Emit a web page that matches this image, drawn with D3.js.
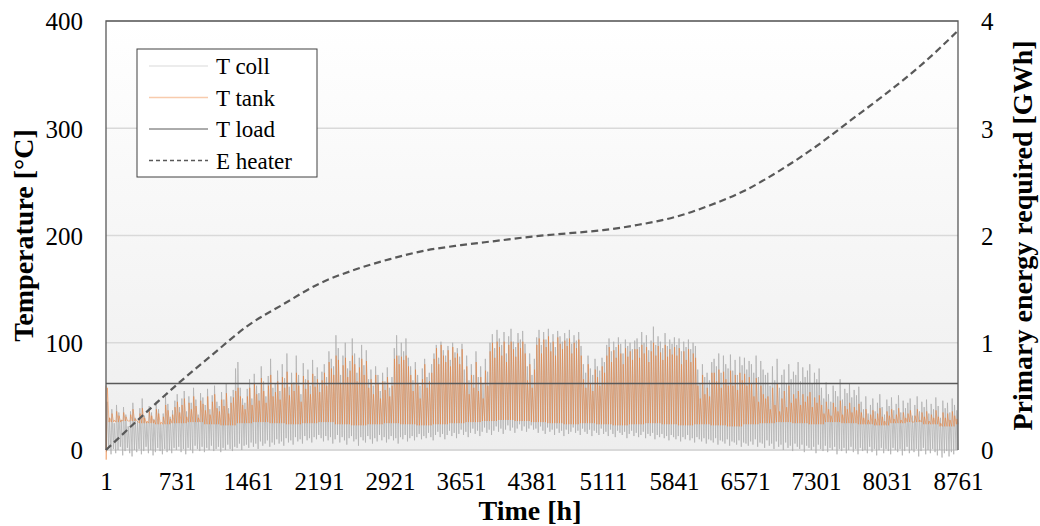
<!DOCTYPE html>
<html>
<head>
<meta charset="utf-8">
<script src="https://cdn.jsdelivr.net/npm/d3@7"></script>
<style>
  body { margin: 0; background: #fff; }
  text { font-family: "Liberation Serif", "Times New Roman", serif; fill: #000; }
  .axisTitle { font-size: 28px; font-weight: bold; }
  .legendText { font-size: 23px; }
</style>
</head>
<body>
<div id="chart"></div>
<script>
// tick labels
var xTicks = [1, 731, 1461, 2191, 2921, 3651, 4381, 5111, 5841, 6571, 7301, 8031, 8761];
var yTicks = [0, 100, 200, 300, 400];
var yTicksRight = [0, 1, 2, 3, 4];

// daily peak of T coll [°C], one value per day
var collMax = [
  45, 30, 38, 25, 42, 35, 28, 40, 33, 22, 36, 44, 30, 27, 39, 48, 32, 26, 41, 35, 29, 45, 38, 24, 34, 50, 43, 31, 37, 46,
  52, 40, 48, 55, 36, 50, 44, 58, 47, 33, 53, 49, 42, 57, 38, 51, 60, 45, 41, 54, 47, 62, 39, 50, 56, 76, 82, 58, 48, 44,
  57, 66, 48, 71, 60, 53, 78, 64, 50, 69, 85, 58, 62, 74, 55, 80, 67, 90, 59, 72, 63, 88, 70, 52, 81, 66, 75, 60, 84, 69, 77, 62,
  73, 80, 68, 92, 85, 78, 107, 95, 70, 88, 100, 76, 83, 104, 90, 72, 86, 98, 79, 93, 66, 75, 60, 78, 70, 55, 72, 64, 77, 58, 68,
  95, 107, 88, 100, 92, 104, 86,
  78, 65, 82, 70, 60, 76, 85, 68, 72, 80,
  90, 98, 86, 101, 93, 88, 97, 84, 100, 91, 95, 87, 99,
  75, 88, 65, 80, 70, 92, 68, 78, 62, 85, 73,
  100, 108, 95, 112, 104, 98, 110, 90, 106, 113, 101, 96, 109, 103, 111, 99,
  78, 90, 70, 85,
  105, 112, 98, 110, 103, 113, 100, 108, 96, 111, 106, 101, 109, 104, 112, 99, 107, 102, 110, 97,
  80, 72, 88, 76, 70, 85, 78, 74, 86, 82,
  98, 104, 92, 101, 96, 105, 99, 90, 103, 97, 100, 94, 102,
  104, 96, 110, 100, 107, 93, 102, 115, 98, 106, 101, 95, 109, 97, 103, 99, 105,
  98, 104, 92, 101, 96, 103, 94, 100, 97,
  75, 62, 80, 68, 72, 65, 82,
  85, 78, 90, 72, 88, 80, 76, 89, 74, 84, 70, 87, 79, 86, 75, 83,
  80, 72, 88, 68, 83, 75, 70,
  72, 60, 78, 65, 85, 58, 70, 75, 62, 80, 66, 73,
  70, 82, 64, 77, 68, 74, 80, 62, 72, 66, 76,
  58, 48, 63, 52, 45, 60, 55, 50, 66, 47, 57, 53, 62, 49, 56, 51, 59,
  45, 38, 50, 34, 42, 48, 36, 44, 52, 40, 33, 47, 41, 49, 37, 43, 51, 35, 46, 39, 44, 48, 32, 42, 50, 36, 45, 40, 47, 34, 43, 38, 49, 41, 30, 46, 39, 44, 35, 48, 42, 37
];

// daily night minimum of T coll [°C]
var collMin = [
  -2, 2, -4, 1, -3, 0, 3, -5, -1, 2, -3, -6, 0, -2, 1, -4, -1, 3, -3, 0, -5, -2, 2, -1, -4, 1, -2, 0, -3, 2,
  0, 3, -2, 1, -4, 2, 0, -3, 4, 1, -1, 3, -2, 2, 0, 4, -1, 1, 3, -2, 2, 0, 5, 1, -1, 3, 2, 6, 0, 4,
  5, 2, 7, 3, 6, 1, 8, 4, 6, 9, 3, 7, 5, 10, 6, 8, 4, 11, 7, 9, 5, 12, 8, 10, 6, 13, 9, 11, 7, 12, 10, 14,
  11, 8, 13, 9, 12, 6, 10, 14, 7, 12, 9, 5, 11, 13, 8, 10, 4, 12, 9, 7, 13, 10, 6, 11, 8, 14, 9, 12, 7, 10,
  13, 9, 11, 6, 12, 10, 14, 8, 11, 13, 9, 12, 15, 10, 13, 11, 16, 12, 9, 14, 17, 12, 15, 10, 14, 18, 13, 16, 11, 15,
  19, 14, 17, 12, 16, 20, 15, 18, 13, 17, 21, 16, 19, 14, 18, 22, 17, 20, 15, 19, 23, 18, 21, 16, 20, 24, 18, 22, 17, 20, 23, 19,
  20, 16, 22, 18, 15, 21, 17, 19, 14, 20, 16, 18, 13, 19, 15, 17, 21, 16, 18, 14, 20, 17, 15, 19, 13, 18, 16, 14, 20, 15,
  17, 13, 19, 15, 12, 18, 16, 14, 17, 11, 15, 18, 13, 16, 12, 14, 17, 11, 15, 13, 16, 10, 14, 12, 15, 11, 13, 9, 14, 12,
  10, 13, 8, 12, 10, 14, 9, 11, 7, 12, 10, 8, 11, 6, 10, 9, 7, 11, 5, 9, 8, 6, 10, 4, 8, 7, 5, 9, 3, 7, 6, 4,
  8, 5, 10, 3, 7, 6, 2, 9, 4, 6, 1, 8, 3, 5, 0, 7, 2, 4, -1, 6, 3, 1, 5, -2, 4, 2, 0, 3, -3, 5,
  1, -1, 4, -2, 2, 0, 3, -4, 1, -1, 2, -3, 0, 3, -2, 1, -4, 2, -1, 0, -3, 3, -2, 1, -5, 0, 2, -3, 1, -1,
  -4, 2, 0, -2, 1, -5, -1, 3, -3, 0, -2, 1, -6, -1, 2, -4, 0, -3, 1, -2, -5, 0, -7, -3, -1, -6, -2, -4, 0
];

// daily peak of T tank [°C]
var tankMax = [
  58, 30, 34, 28, 36, 32, 28, 35, 31, 27, 33, 38, 29, 27, 34, 39, 30, 27, 36, 32, 28, 38, 34, 26, 31, 42, 37, 29, 33, 40,
  45, 35, 42, 48, 31, 44, 38, 50, 41, 30, 46, 43, 37, 50, 33, 45, 52, 39, 36, 47, 41, 53, 34, 44, 49, 55, 58, 50, 42, 38,
  50, 58, 42, 62, 52, 46, 67, 55, 44, 60, 70, 50, 54, 64, 47, 68, 58, 73, 51, 62, 55, 72, 60, 45, 69, 57, 65, 52, 71, 59, 66, 54,
  65, 72, 60, 82, 76, 70, 88, 84, 62, 79, 86, 68, 74, 88, 80, 64, 77, 85, 70, 83, 58, 66, 52, 70, 62, 48, 64, 56, 68, 50, 60,
  85, 88, 80, 87, 84, 88, 78,
  70, 55, 75, 62, 48, 66, 80, 58, 64, 72,
  85, 95, 80, 98, 88, 82, 93, 78, 96, 86, 90, 80, 94,
  62, 78, 52, 70, 58, 82, 55, 68, 48, 74, 60,
  92, 100, 86, 101, 96, 88, 101, 82, 98, 101, 94, 87, 100, 95, 101, 90,
  65, 80, 58, 75,
  98, 104, 90, 103, 96, 106, 92, 101, 88, 105, 99, 94, 102, 97, 104, 90, 100, 95, 103, 88,
  66, 58, 80, 62, 55, 75, 68, 60, 78, 72,
  88, 96, 82, 93, 86, 98, 90, 80, 95, 87, 92, 84, 94,
  94, 86, 98, 90, 96, 82, 92, 100, 88, 97, 91, 84, 98, 87, 94, 89, 96,
  88, 95, 80, 92, 84, 94, 82, 90, 86,
  60, 48, 70, 52, 58, 50, 72,
  72, 64, 75, 58, 73, 66, 60, 74, 60, 70, 56, 72, 65, 71, 60, 68,
  62, 50, 67, 45, 60, 52, 48,
  50, 38, 58, 42, 62, 36, 48, 55, 40, 60, 44, 52,
  48, 55, 42, 52, 45, 50, 54, 40, 49, 44, 51,
  42, 34, 45, 38, 32, 44, 40, 36, 46, 33, 41, 38, 44, 35, 40, 37, 43,
  35, 30, 38, 28, 33, 37, 29, 34, 39, 31, 27, 36, 32, 38, 29, 33, 39, 28, 35, 30, 34, 37, 26, 32, 38, 28, 35, 31, 36, 27, 33, 30, 37, 31, 25, 35, 30, 34, 28, 36, 32, 29
];

// T tank baseline [°C], one value per week
var tankBase = [
  26, 27, 25, 24, 25, 26, 24, 23, 25, 26, 25, 24, 25, 26, 24, 23, 24, 25, 24, 23, 24, 25, 26, 27, 28, 27, 26,
  25, 24, 25, 24, 23, 24, 25, 24, 23, 24, 23, 22, 24, 25, 26, 25, 24, 26, 25, 24, 23, 25, 26, 24, 22, 24
];

// first hours of the tank (start-up dip)
var tankStartHours = [1, 3];
var tankStart = [60, -9];

// T load [°C], constant set point
var tLoad = 62;

// cumulative heater energy [GWh]
var eHours = [1, 365, 731, 1096, 1461, 1826, 2191, 2556, 2921, 3286, 3651, 4016, 4381,
              4746, 5111, 5476, 5841, 6206, 6571, 6936, 7301, 7666, 8031, 8396, 8761];
var eHeater = [0, 0.31, 0.61, 0.89, 1.16, 1.36, 1.55, 1.68, 1.78, 1.86, 1.91, 1.95, 1.99,
               2.02, 2.05, 2.10, 2.17, 2.28, 2.42, 2.61, 2.83, 3.08, 3.33, 3.60, 3.91];

var svgWidth = 1040;
var svgHeight = 526;
var margin = { top: 21, right: 82, bottom: 76, left: 106 };
var chartWidth = svgWidth - margin.left - margin.right;
var chartHeight = svgHeight - margin.top - margin.bottom;

var svg = d3.select("#chart").append("svg")
  .attr("width", svgWidth)
  .attr("height", svgHeight);

var defs = svg.append("defs");
var grad = defs.append("linearGradient")
  .attr("id", "bg")
  .attr("x1", 0).attr("y1", 0).attr("x2", 0).attr("y2", 1);
grad.append("stop").attr("offset", "0%").attr("stop-color", "#ffffff");
grad.append("stop").attr("offset", "100%").attr("stop-color", "#eeeeee");

var chartGroup = svg.append("g")
  .attr("transform", `translate(${margin.left}, ${margin.top})`);

var x = d3.scaleLinear().domain([1, 8761]).range([0, chartWidth]);
var yL = d3.scaleLinear().domain([0, 400]).range([chartHeight, 0]);
var yR = d3.scaleLinear().domain([0, 4]).range([chartHeight, 0]);

// plot background
chartGroup.append("rect")
  .attr("width", chartWidth)
  .attr("height", chartHeight)
  .attr("fill", "url(#bg)");

// gridlines
chartGroup.append("g")
  .selectAll("line")
  .data(yTicks)
  .enter()
  .append("line")
  .attr("x1", 0)
  .attr("x2", chartWidth)
  .attr("y1", d => yL(d))
  .attr("y2", d => yL(d))
  .attr("stroke", "#d9d9d9")
  .attr("stroke-width", d => d === 0 ? 2 : 1.5);

// build series points
var collPts = [];
collMax.forEach(function(v, i) {
  collPts.push([i * 24 + 5, collMin[i]]);
  collPts.push([i * 24 + 13, v]);
});
collPts.push([8761, collMin[collMin.length - 1]]);

var tankPts = tankStart.map((v, i) => [tankStartHours[i], v]);
tankMax.forEach(function(v, i) {
  var b = tankBase[Math.floor(i / 7)];
  tankPts.push([i * 24 + 8, b]);
  tankPts.push([i * 24 + 15, v]);
});
tankPts.push([8761, tankBase[tankBase.length - 1]]);

var lineL = d3.line().x(d => x(d[0])).y(d => yL(d[1]));
var lineR = d3.line().curve(d3.curveMonotoneX).x(d => x(d[0])).y(d => yR(d[1]));

chartGroup.append("path")
  .attr("d", lineL(collPts))
  .attr("fill", "none")
  .attr("stroke", "#b0b0b0")
  .attr("stroke-width", 0.9)
  .attr("opacity", 0.85);

chartGroup.append("path")
  .attr("d", lineL(tankPts))
  .attr("fill", "none")
  .attr("stroke", "#ed7d31")
  .attr("stroke-width", 0.9)
  .attr("opacity", 0.55);

chartGroup.append("line")
  .attr("x1", x(1))
  .attr("x2", x(8761))
  .attr("y1", yL(tLoad))
  .attr("y2", yL(tLoad))
  .attr("stroke", "#595959")
  .attr("stroke-width", 1.3);

chartGroup.append("path")
  .attr("d", lineR(eHours.map((h, i) => [h, eHeater[i]])))
  .attr("fill", "none")
  .attr("stroke", "#595959")
  .attr("stroke-width", 2.2)
  .attr("stroke-dasharray", "7,4");

// frame (left, top, right)
chartGroup.append("path")
  .attr("d", `M0,${chartHeight} V0 H${chartWidth} V${chartHeight}`)
  .attr("fill", "none")
  .attr("stroke", "#595959")
  .attr("stroke-width", 1.3);

// axes
var bottomAxis = d3.axisBottom(x).tickValues(xTicks).tickSize(0).tickPadding(22).tickFormat(d3.format("d"));
var leftAxis = d3.axisLeft(yL).tickValues(yTicks).tickSize(0).tickPadding(23).tickFormat(d3.format("d"));
var rightAxis = d3.axisRight(yR).tickValues(yTicksRight).tickSize(0).tickPadding(23).tickFormat(d3.format("d"));

chartGroup.append("g")
  .attr("transform", `translate(0, ${chartHeight})`)
  .call(bottomAxis)
  .call(g => g.select(".domain").remove());

chartGroup.append("g")
  .call(leftAxis)
  .call(g => g.select(".domain").remove())
  .selectAll("text").attr("dy", "0.35em");

chartGroup.append("g")
  .attr("transform", `translate(${chartWidth}, 0)`)
  .call(rightAxis)
  .call(g => g.select(".domain").remove())
  .selectAll("text").attr("dy", "0.35em");

svg.selectAll(".tick text")
  .style("font-family", "'Liberation Serif', serif")
  .style("font-size", "25px")
  .attr("fill", "#000");

// axis titles
svg.append("text")
  .attr("class", "axisTitle")
  .attr("transform", `translate(${margin.left + chartWidth / 2 - 2}, 520)`)
  .style("text-anchor", "middle")
  .text("Time [h]");

svg.append("text")
  .attr("class", "axisTitle")
  .attr("transform", `translate(33, ${margin.top + chartHeight / 2}) rotate(-90)`)
  .style("text-anchor", "middle")
  .text("Temperature [°C]");

svg.append("text")
  .attr("class", "axisTitle")
  .attr("transform", `translate(1032, ${margin.top + chartHeight / 2}) rotate(-90)`)
  .style("text-anchor", "middle")
  .text("Primary energy required [GWh]");

// legend
var legendItems = [
  { name: "T coll", color: "#d9d9d9", width: 1, dash: null },
  { name: "T tank", color: "#f8cbad", width: 1.5, dash: null },
  { name: "T load", color: "#595959", width: 1, dash: null },
  { name: "E heater", color: "#595959", width: 1.5, dash: "4,3" }
];

var legend = svg.append("g").attr("transform", "translate(137, 49)");
legend.append("rect")
  .attr("width", 180)
  .attr("height", 128)
  .attr("fill", "#fff")
  .attr("stroke", "#404040")
  .attr("stroke-width", 1);

var rows = legend.selectAll(".row")
  .data(legendItems)
  .enter()
  .append("g")
  .attr("transform", (d, i) => `translate(0, ${17 + i * 31.5})`);

rows.append("line")
  .attr("x1", 12)
  .attr("x2", 71)
  .attr("stroke", d => d.color)
  .attr("stroke-width", d => d.width)
  .attr("stroke-dasharray", d => d.dash);

rows.append("text")
  .attr("class", "legendText")
  .attr("x", 79)
  .attr("dy", "0.35em")
  .text(d => d.name);
</script>
</body>
</html>
